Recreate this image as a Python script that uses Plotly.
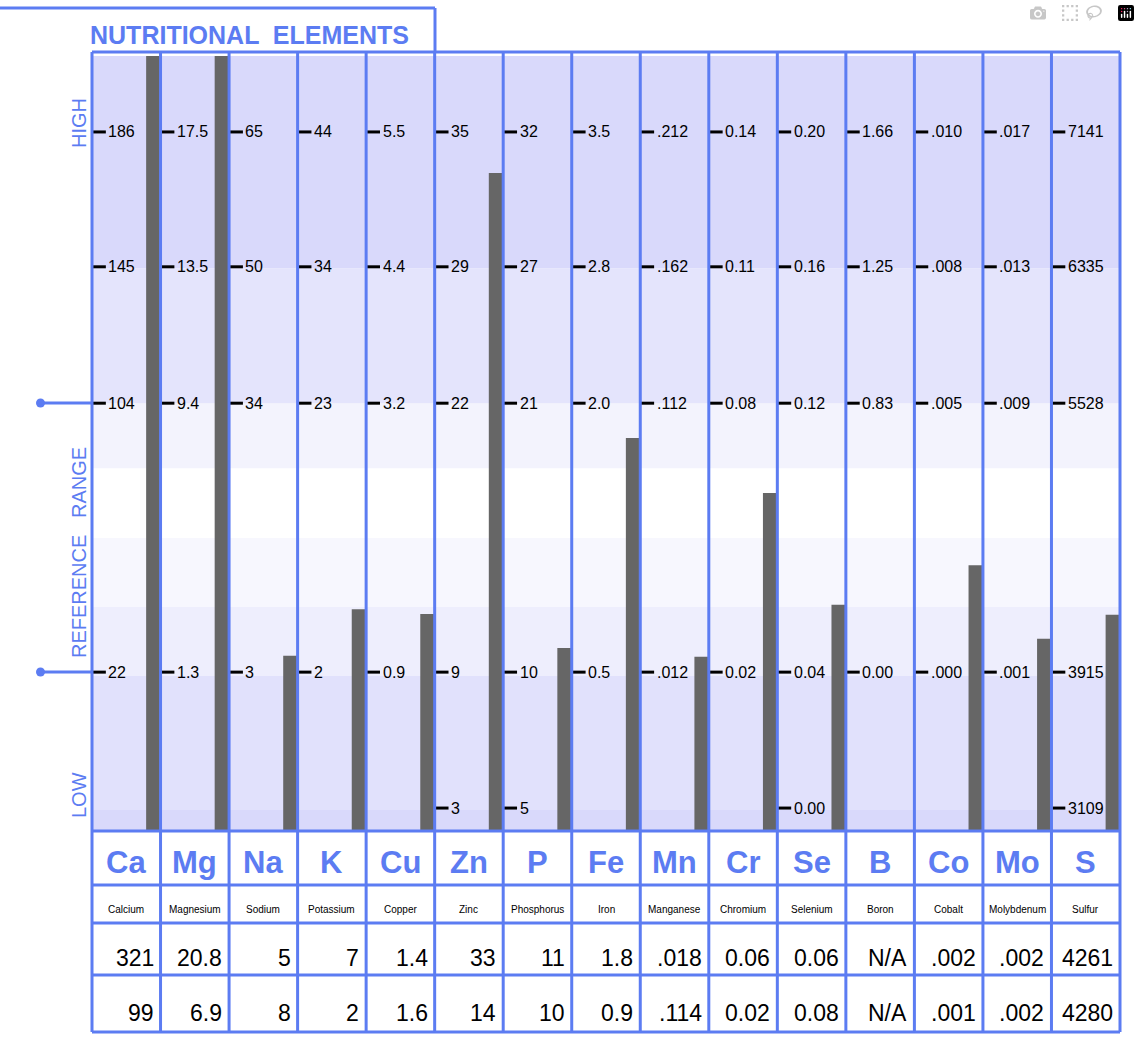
import plotly.graph_objects as go

symbols = ["Ca","Mg","Na","K","Cu","Zn","P","Fe","Mn","Cr","Se","B","Co","Mo","S"]
names = ["Calcium","Magnesium","Sodium","Potassium","Copper","Zinc","Phosphorus","Iron","Manganese","Chromium","Selenium","Boron","Cobalt","Molybdenum","Sulfur"]
bar_values = [100,100,22.6,28.6,28.0,84.9,23.6,50.7,22.5,43.6,29.2,0,34.3,24.8,27.9]
tick_levels = [90.2,72.8,55.2,20.5,2.96]
tick_rows = [
 ["186","17.5","65","44","5.5","35","32","3.5",".212","0.14","0.20","1.66",".010",".017","7141"],
 ["145","13.5","50","34","4.4","29","27","2.8",".162","0.11","0.16","1.25",".008",".013","6335"],
 ["104","9.4","34","23","3.2","22","21","2.0",".112","0.08","0.12","0.83",".005",".009","5528"],
 ["22","1.3","3","2","0.9","9","10","0.5",".012","0.02","0.04","0.00",".000",".001","3915"],
 ["","","","","","3","5","","","","0.00","","","","3109"],
]
result1 = ["321","20.8","5","7","1.4","33","11","1.8",".018","0.06","0.06","N/A",".002",".002","4261"]
result2 = ["99","6.9","8","2","1.6","14","10","0.9",".114","0.02","0.08","N/A",".001",".002","4280"]

W, H = 1140, 1064
BLUE = "#5c7cf2"
X0, X1, Y0, Y1 = 92, 1120, 56, 831
n = len(symbols)
cw = (X1 - X0) / n
def px(x): return x / W
def py(y): return 1 - y / H

fig = go.Figure()
shapes, ann = [], []
bands = [(0,2.7,"#d9d9fb"),(2.7,20,"#e1e1fc"),(20,28.9,"#eeeefd"),(28.9,37.8,"#f7f7fe"),
         (37.8,46.8,"#ffffff"),(46.8,55.2,"#f3f3fd"),(55.2,72.6,"#e4e4fc"),(72.6,100,"#d9d9fb")]
for a,b,c in bands:
    shapes.append(dict(type="rect",xref="x",yref="y",x0=0,x1=n,y0=a,y1=b,fillcolor=c,line_width=0,layer="below"))

fig.add_trace(go.Bar(x=[i+0.89 for i in range(n)], y=bar_values, width=0.2,
                     marker=dict(color="#666666", line_width=0), hoverinfo="skip"))

tx, ty = [], []
for lvl, row in zip(tick_levels, tick_rows):
    for i, t in enumerate(row):
        if t:
            tx.append(i+0.1); ty.append(lvl)
            ann.append(dict(x=i+0.21, y=lvl, xref="x", yref="y", text=t, showarrow=False,
                            xanchor="left", yanchor="middle",
                            font=dict(size=16, color="black", family="Liberation Sans, Arial")))
fig.add_trace(go.Scatter(x=tx, y=ty, mode="markers", hoverinfo="skip",
                         marker=dict(symbol="line-ew", size=10, line=dict(width=3, color="black"))))

for i in range(n+1):
    x = X0 + i*cw
    shapes.append(dict(type="line",xref="paper",yref="paper",x0=px(x),x1=px(x),y0=py(52),y1=py(1032),line=dict(color=BLUE,width=3)))
for y in [52, 831, 885, 923, 975, 1032]:
    shapes.append(dict(type="line",xref="paper",yref="paper",x0=px(X0),x1=px(X1),y0=py(y),y1=py(y),line=dict(color=BLUE,width=3)))
shapes.append(dict(type="line",xref="paper",yref="paper",x0=0,x1=px(435),y0=py(8),y1=py(8),line=dict(color=BLUE,width=3)))
shapes.append(dict(type="line",xref="paper",yref="paper",x0=px(435),x1=px(435),y0=py(8),y1=py(52),line=dict(color=BLUE,width=3)))
for y in [403, 672]:
    shapes.append(dict(type="line",xref="paper",yref="paper",x0=px(40),x1=px(92),y0=py(y),y1=py(y),line=dict(color=BLUE,width=3)))
    shapes.append(dict(type="circle",xref="paper",yref="paper",x0=px(36),x1=px(45),y0=py(y+4.5),y1=py(y-4.5),
                       fillcolor=BLUE,line_width=0))

ann.append(dict(x=px(88),y=py(35),xref="paper",yref="paper",text="<b>NUTRITIONAL  ELEMENTS</b>",showarrow=False,
                xanchor="left",yanchor="middle",font=dict(size=25,color=BLUE,family="Liberation Sans, Arial")))
for txt, y in [("HIGH",123),("REFERENCE   RANGE",552),("LOW",795)]:
    ann.append(dict(x=px(79),y=py(y),xref="paper",yref="paper",text=txt,showarrow=False,textangle=-90,
                    xanchor="center",yanchor="middle",
                    font=dict(size=20,color=BLUE,family="Liberation Sans, Arial")))

for i in range(n):
    cx = X0 + (i+0.5)*cw
    rx = X0 + (i+1)*cw - 5
    ann.append(dict(x=px(cx),y=py(862),xref="paper",yref="paper",text="<b>"+symbols[i]+"</b>",showarrow=False,
                    xanchor="center",yanchor="middle",font=dict(size=31,color=BLUE,family="Liberation Sans, Arial")))
    ann.append(dict(x=px(cx),y=py(909),xref="paper",yref="paper",text=names[i],showarrow=False,
                    xanchor="center",yanchor="middle",font=dict(size=10,color="black",family="Liberation Sans, Arial")))
    ann.append(dict(x=px(rx),y=py(958),xref="paper",yref="paper",text=result1[i],showarrow=False,xanchor="right",
                    yanchor="middle",font=dict(size=23,color="black",family="Liberation Sans, Arial")))
    ann.append(dict(x=px(rx),y=py(1013),xref="paper",yref="paper",text=result2[i],showarrow=False,xanchor="right",
                    yanchor="middle",font=dict(size=23,color="black",family="Liberation Sans, Arial")))

fig.update_layout(width=W, height=H, margin=dict(l=0,r=0,t=0,b=0), showlegend=False,
                  paper_bgcolor="white", plot_bgcolor="white", shapes=shapes, annotations=ann,
                  xaxis=dict(domain=[px(X0),px(X1)], range=[0,n], visible=False, fixedrange=True),
                  yaxis=dict(domain=[py(Y1),py(Y0)], range=[0,100], visible=False, fixedrange=True))
fig.write_html("out.html", post_script="document.body.style.margin='0';")
